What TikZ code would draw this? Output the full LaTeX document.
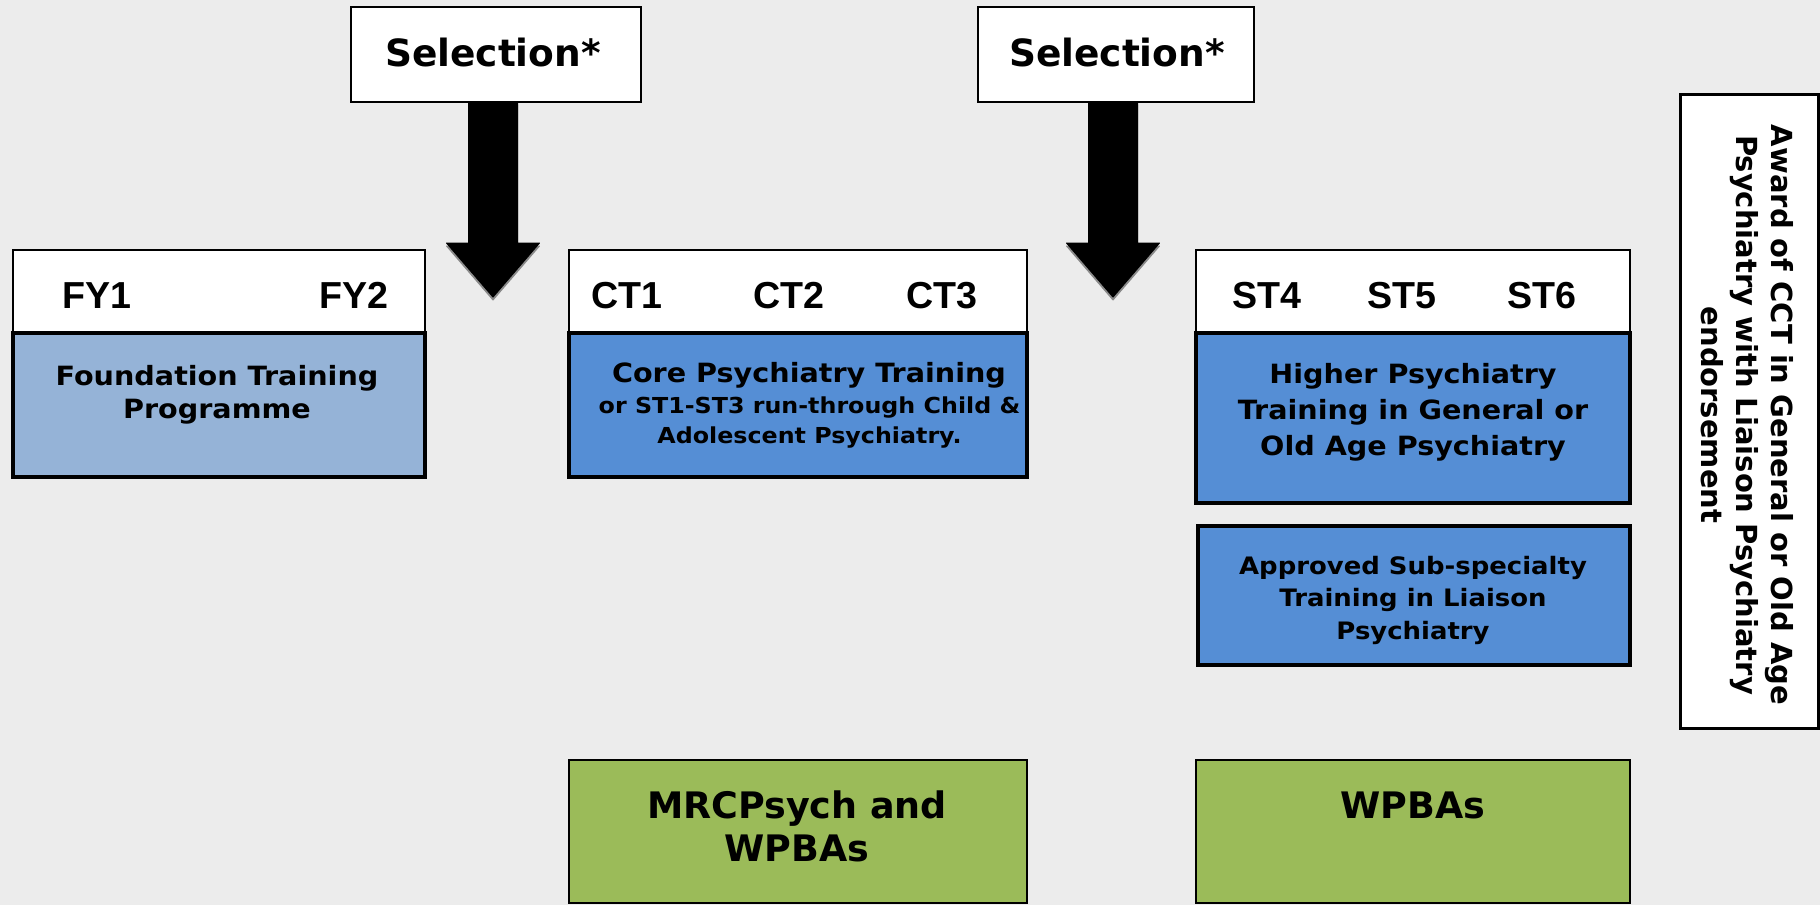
\documentclass[tikz,border=0pt]{standalone}
\usepackage{fontspec}
\setmainfont{DejaVu Sans}
\newfontfamily\bodyfont[FakeStretch=1.08]{DejaVu Sans}
\newfontfamily\hdrfont{Liberation Sans}
\definecolor{bgc}{HTML}{ECECEC}
\definecolor{lblue}{HTML}{95B3D7}
\definecolor{mblue}{HTML}{558ED5}
\definecolor{lgreen}{HTML}{9BBB59}
\definecolor{shadowc}{HTML}{8A8A8A}
\begin{document}
\begin{tikzpicture}[x=1pt,y=-1pt,
  box/.style={draw=black, inner sep=0pt, outer sep=0pt, anchor=north west},
  hdrbox/.style={box, line width=1.5pt, fill=white},
  bluebox/.style={box, line width=3.5pt},
  greenbox/.style={box, line width=2.5pt, fill=lgreen},
  selbox/.style={box, line width=2.5pt, fill=white},
  hlab/.style={font=\hdrfont\bfseries\fontsize{37.6}{40}\selectfont, anchor=base, inner sep=0pt},
  sellab/.style={font=\bfseries\fontsize{37.5}{40}\selectfont, anchor=base, inner sep=0pt},
  bodytxt/.style={font=\bodyfont\bfseries\fontsize{26.5}{33}\selectfont, align=center, inner sep=0pt},
  smalltxt/.style={font=\bodyfont\bfseries\fontsize{22}{30}\selectfont, align=center, inner sep=0pt},
  subtxt/.style={font=\bodyfont\bfseries\fontsize{24}{32.5}\selectfont, align=center, inner sep=0pt},
  greentxt/.style={font=\bfseries\fontsize{36.5}{43}\selectfont, align=center, inner sep=0pt},
  awardtxt/.style={font=\bfseries\fontsize{29}{35}\selectfont, align=center, inner sep=0pt, rotate=-90},
  arrowbody/.style={fill=black, draw=black, line width=1pt, line join=round},
  arrowshadow/.style={fill=shadowc, draw=shadowc, line width=1pt, line join=round}
]
\fill[bgc] (0,0) rectangle (1820,905);
\useasboundingbox (0,0) rectangle (1820,905);

% Selection boxes
\node[selbox, minimum width=290pt, minimum height=95pt] (sel1) at (351,7) {};
\node[sellab] (sel1t) at (493,66.5) {Selection*};
\node[selbox, minimum width=276pt, minimum height=95pt] (sel2) at (978,7) {};
\node[sellab] (sel2t) at (1117,66.5) {Selection*};

% Block arrows
\coordinate (a1) at (493,102);
\coordinate (a2) at (1113,102);
\foreach \c in {a1,a2}{
  \begin{scope}[shift={(\c)}]
    \path[arrowshadow] (-24.5,3) -- (24.5,3) -- (24.5,144) -- (46.5,144) -- (0,198) -- (-46.5,144) -- (-24.5,144) -- cycle;
    \path[arrowbody] (-24.5,0) -- (24.5,0) -- (24.5,141) -- (46.5,141) -- (0,195) -- (-46.5,141) -- (-24.5,141) -- cycle;
  \end{scope}
}

% Foundation
\node[hdrbox, minimum width=412pt, minimum height=83pt] (fyh) at (13,250) {};
\node[bluebox, fill=lblue, minimum width=412pt, minimum height=144pt] (fyb) at (13,333) {};
\node[hlab] (fy1) at (97,308.5) {FY1};
\node[hlab] (fy2) at (354,308.5) {FY2};
\node[bodytxt] (fyt) at (217,394.3) {Foundation Training\\Programme};

% Core
\node[hdrbox, minimum width=458pt, minimum height=83pt] (cth) at (569,250) {};
\node[bluebox, fill=mblue, minimum width=458pt, minimum height=144pt] (ctb) at (569,333) {};
\node[hlab] (ct1) at (627,308.5) {CT1};
\node[hlab] (ct2) at (789,308.5) {CT2};
\node[hlab] (ct3) at (942,308.5) {CT3};
\node[bodytxt, anchor=base] (ctt1) at (809,382.7) {Core Psychiatry Training};
\node[smalltxt] (ctt2) at (809.5,422.3) {or ST1-ST3 run-through Child \&\\Adolescent Psychiatry.};

% Higher
\node[hdrbox, minimum width=434pt, minimum height=83pt] (sth) at (1196,250) {};
\node[bluebox, fill=mblue, minimum width=434pt, minimum height=170pt] (stb) at (1196,333) {};
\node[hlab] (st4) at (1267,308.5) {ST4};
\node[hlab] (st5) at (1402,308.5) {ST5};
\node[hlab] (st6) at (1542,308.5) {ST6};
\node[bodytxt, font=\bodyfont\bfseries\fontsize{26.5}{36}\selectfont] (stt) at (1413,411.8) {Higher Psychiatry\\Training in General or\\Old Age Psychiatry};

% Sub-specialty
\node[bluebox, fill=mblue, minimum width=432pt, minimum height=139pt] (subb) at (1198,526) {};
\node[subtxt] (subt) at (1413,600) {Approved Sub-specialty\\Training in Liaison\\Psychiatry};

% Award
\node[box, line width=3pt, fill=white, minimum width=138pt, minimum height=634pt] (awb) at (1680,94) {};
\node[awardtxt] (awt) at (1747.4,415) {Award of CCT in General or Old Age\\Psychiatry with Liaison Psychiatry\\endorsement};

% Green boxes
\node[greenbox, minimum width=458pt, minimum height=143pt] (g1) at (569,760) {};
\node[greentxt] (g1t) at (797,826) {MRCPsych and\\WPBAs};
\node[greenbox, minimum width=434pt, minimum height=143pt] (g2) at (1196,760) {};
\node[greentxt, anchor=base] (g2t) at (1413,818) {WPBAs};
\end{tikzpicture}
\end{document}
